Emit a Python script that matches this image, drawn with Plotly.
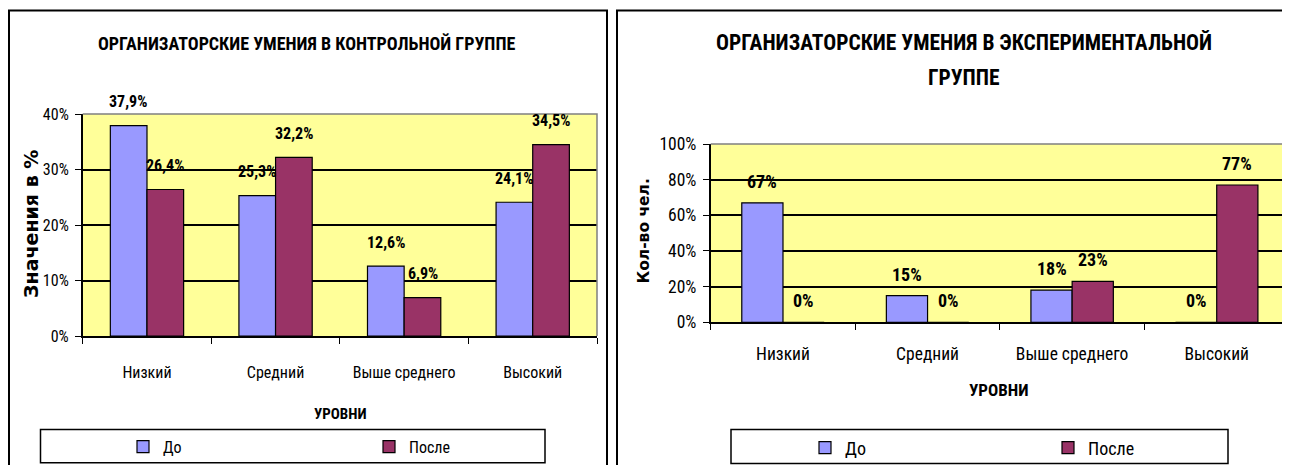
import plotly.graph_objects as go

# ---- data ----
categories = ["Низкий", "Средний", "Выше среднего", "Высокий"]
control_before = [37.9, 25.3, 12.6, 24.1]
control_after = [26.4, 32.2, 6.9, 34.5]
exp_before = [67, 15, 18, 0]
exp_after = [0, 0, 23, 77]
series_names = ["До", "После"]
left_ticks = [0, 10, 20, 30, 40]
right_ticks = [0, 20, 40, 60, 80, 100]

W, H = 1290, 465
OFF = 8  # page body margin: figure is drawn 8px right/down of the window origin
NARROW = "Roboto Condensed, Liberation Sans Narrow, Arial Narrow, sans-serif"
WIDE = "DejaVu Sans, Verdana, sans-serif"
C_BEFORE = "#9999FF"
C_AFTER = "#993366"


def px(x):
    """window pixel x -> paper fraction"""
    return (x - OFF) / W


def py(y):
    """window pixel y (from top) -> paper fraction"""
    return (H - (y - OFF)) / H


fig = go.Figure()

bar_line = dict(color="black", width=1.2)
fig.add_trace(go.Bar(x=categories, y=control_before, name=series_names[0], marker=dict(color=C_BEFORE, line=bar_line),
                     xaxis="x", yaxis="y", legend="legend"))
fig.add_trace(go.Bar(x=categories, y=control_after, name=series_names[1], marker=dict(color=C_AFTER, line=bar_line),
                     xaxis="x", yaxis="y", legend="legend"))
fig.add_trace(go.Bar(x=categories, y=exp_before, name=series_names[0], marker=dict(color=C_BEFORE, line=bar_line),
                     xaxis="x2", yaxis="y2", legend="legend2"))
fig.add_trace(go.Bar(x=categories, y=exp_after, name=series_names[1], marker=dict(color=C_AFTER, line=bar_line),
                     xaxis="x2", yaxis="y2", legend="legend2"))

annotations = []
# data labels
for vals, sh in ((control_before, -18.5), (control_after, 18.5)):
    for c, v in zip(categories, vals):
        annotations.append(dict(x=c, y=v, xref="x", yref="y", text=f"{v:.1f}%".replace(".", ","),
                                showarrow=False, xshift=sh, yshift=24, xanchor="center", yanchor="middle",
                                font=dict(family=NARROW, size=16, color="black", weight="bold")))
for vals, sh in ((exp_before, -20.5), (exp_after, 20.5)):
    for c, v in zip(categories, vals):
        annotations.append(dict(x=c, y=v, xref="x2", yref="y2", text=f"{v:.0f}%",
                                showarrow=False, xshift=sh, yshift=21.5, xanchor="center", yanchor="middle",
                                font=dict(family=NARROW, size=18, color="black", weight="bold")))

# titles
annotations.append(dict(x=px(306), y=py(44), xref="paper", yref="paper", showarrow=False,
                        text="ОРГАНИЗАТОРСКИЕ УМЕНИЯ В КОНТРОЛЬНОЙ ГРУППЕ", xanchor="center", yanchor="middle",
                        font=dict(family=NARROW, size=18, color="black", weight="bold")))
annotations.append(dict(x=px(964), y=py(42), xref="paper", yref="paper", showarrow=False,
                        text="ОРГАНИЗАТОРСКИЕ УМЕНИЯ В ЭКСПЕРИМЕНТАЛЬНОЙ", xanchor="center", yanchor="middle",
                        font=dict(family=NARROW, size=21.5, color="black", weight="bold")))
annotations.append(dict(x=px(964), y=py(77.5), xref="paper", yref="paper", showarrow=False,
                        text="ГРУППЕ", xanchor="center", yanchor="middle",
                        font=dict(family=NARROW, size=21.5, color="black", weight="bold")))
# axis titles
annotations.append(dict(x=px(31), y=py(224), xref="paper", yref="paper", showarrow=False, textangle=-90,
                        text="Значения в %", xanchor="center", yanchor="middle",
                        font=dict(family=WIDE, size=19, color="black", weight="bold")))
annotations.append(dict(x=px(644), y=py(231.5), xref="paper", yref="paper", showarrow=False, textangle=-90,
                        text="Кол-во чел.", xanchor="center", yanchor="middle",
                        font=dict(family=WIDE, size=15.5, color="black", weight="bold")))
annotations.append(dict(x=px(340), y=py(414), xref="paper", yref="paper", showarrow=False,
                        text="УРОВНИ", xanchor="center", yanchor="middle",
                        font=dict(family=NARROW, size=15, color="black", weight="bold")))
annotations.append(dict(x=px(999), y=py(390.5), xref="paper", yref="paper", showarrow=False,
                        text="УРОВНИ", xanchor="center", yanchor="middle",
                        font=dict(family=NARROW, size=17, color="black", weight="bold")))

shapes = [
    # chart frames
    dict(type="rect", xref="paper", yref="paper", x0=px(9), x1=px(607), y0=-0.1, y1=py(10.5),
         line=dict(color="black", width=2), fillcolor="rgba(0,0,0,0)", layer="above"),
    dict(type="rect", xref="paper", yref="paper", x0=px(617), x1=1.1, y0=-0.1, y1=py(10.5),
         line=dict(color="black", width=2), fillcolor="rgba(0,0,0,0)", layer="above"),
    # legend boxes
    dict(type="rect", xref="paper", yref="paper", x0=px(40.5), x1=px(545), y0=py(462.7), y1=py(429.5),
         line=dict(color="black", width=1.5), fillcolor="rgba(0,0,0,0)", layer="above"),
    dict(type="rect", xref="paper", yref="paper", x0=px(731), x1=px(1228), y0=py(463.5), y1=py(429.5),
         line=dict(color="black", width=1.5), fillcolor="rgba(0,0,0,0)", layer="above"),
    # plot-area gray borders (top and right)
    dict(type="path", xref="x domain", yref="y domain", path="M 0 1 L 1 1 L 1 0",
         line=dict(color="#808080", width=1.5), layer="above"),
    dict(type="path", xref="x2 domain", yref="y2 domain", path="M 0 1 L 1 1 L 1 0",
         line=dict(color="#808080", width=1.5), layer="above"),
]

common_x = dict(type="category", showline=True, linecolor="black", linewidth=1.5, ticks="outside",
                tickson="boundaries", ticklen=6, tickcolor="black", showgrid=False, fixedrange=True)
common_y = dict(showline=True, linecolor="black", linewidth=1.5, ticks="outside", ticklen=6,
                tickcolor="black", showgrid=True, gridcolor="black", gridwidth=1.6, zeroline=False,
                fixedrange=True)

fig.update_layout(
    width=W, height=H,
    margin=dict(l=0, r=0, t=0, b=0, autoexpand=False),
    paper_bgcolor="white",
    plot_bgcolor="#FFFF99",
    barmode="group", bargap=0.43, bargroupgap=0,
    xaxis=dict(common_x, domain=[px(82.7), px(597)], anchor="y", ticklabelstandoff=21,
               tickfont=dict(family=NARROW, size=16, color="black")),
    yaxis=dict(common_y, domain=[py(336), py(114)], anchor="x", range=[0, 40], tickvals=left_ticks,
               ticktext=[f"{v}%" for v in left_ticks],
               ticklabelstandoff=3, tickfont=dict(family=NARROW, size=16, color="black")),
    xaxis2=dict(common_x, domain=[px(710.7), px(1289)], anchor="y2", ticklabelstandoff=15,
                tickfont=dict(family=NARROW, size=17.5, color="black")),
    yaxis2=dict(common_y, domain=[py(322.3), py(144)], anchor="x2", range=[0, 100], tickvals=right_ticks,
                ticktext=[f"{v}%" for v in right_ticks],
                ticklabelstandoff=3, tickfont=dict(family=NARROW, size=17.5, color="black")),
    legend=dict(orientation="h", x=px(123), y=py(446.7), xanchor="left", yanchor="middle",
                bgcolor="rgba(0,0,0,0)", borderwidth=0, entrywidth=201, entrywidthmode="pixels",
                itemwidth=30, font=dict(family=NARROW, size=16, color="black"), itemclick=False,
                itemdoubleclick=False),
    legend2=dict(orientation="h", x=px(805), y=py(448), xanchor="left", yanchor="middle",
                 bgcolor="rgba(0,0,0,0)", borderwidth=0, entrywidth=198, entrywidthmode="pixels",
                 itemwidth=30, font=dict(family=NARROW, size=18, color="black"), itemclick=False,
                 itemdoubleclick=False),
    annotations=annotations,
    shapes=shapes,
    showlegend=True,
)

fig.write_html("out.html")
